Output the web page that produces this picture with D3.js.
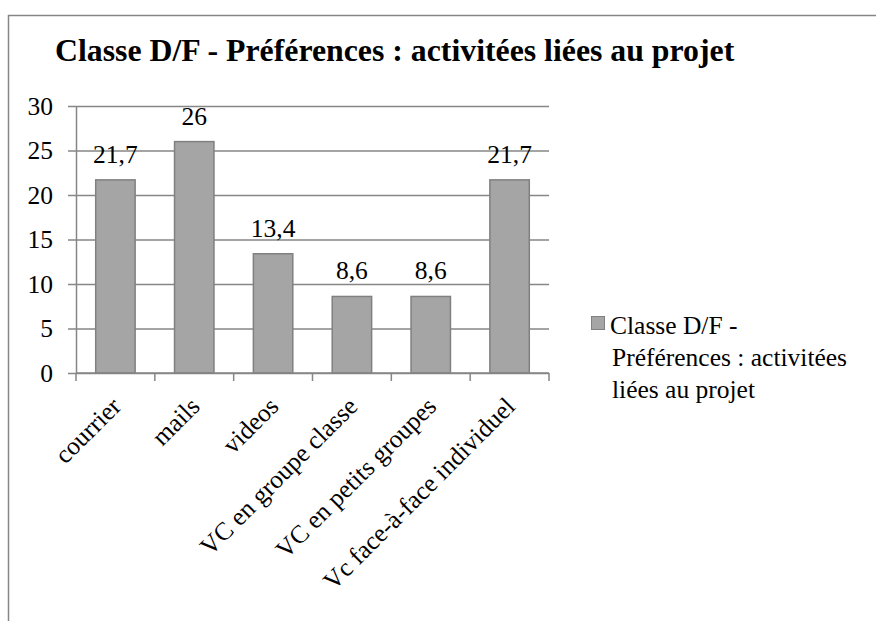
<!DOCTYPE html>
<html>
<head>
<meta charset="utf-8">
<script src="https://cdn.jsdelivr.net/npm/d3@7"></script>
<style>
  html, body { margin: 0; padding: 0; background: #fff; }
  svg { display: block; }
</style>
</head>
<body>
<svg id="chart" width="876" height="621"></svg>
<script>
// Chart data
const title = "Classe D/F - Préférences : activitées liées au projet";
const categories = ["courrier", "mails", "videos", "VC en groupe classe", "VC en petits groupes", "Vc face-à-face individuel"];
const values = [21.7, 26, 13.4, 8.6, 8.6, 21.7];
const valueLabels = ["21,7", "26", "13,4", "8,6", "8,6", "21,7"];
const yTicks = [0, 5, 10, 15, 20, 25, 30];
const legendLines = ["Classe D/F -", "Préférences : activitées", "liées au projet"];

const FONT = '"Liberation Serif", "Times New Roman", Tinos, "DejaVu Serif", serif';
const BODY = 25.5;
const svg = d3.select("#chart").attr("font-family", FONT);
const gridColor = "#868686";
const barFill = "#a5a5a5";
const barStroke = "#808080";

function serif(sel, size) {
  return sel.attr("font-family", FONT).style("font-family", FONT)
    .attr("font-size", size).attr("fill", "#000");
}

// Outer chart frame
svg.append("rect")
  .attr("x", 8.5).attr("y", 15.5)
  .attr("width", 960).attr("height", 700)
  .attr("fill", "none").attr("stroke", gridColor).attr("stroke-width", 1.5);

// Title
serif(svg.append("text"), 31.8)
  .attr("x", 55).attr("y", 61)
  .attr("font-weight", "bold")
  .text(title);

const plot = { left: 76, right: 549, top: 106, bottom: 373 };

const x = d3.scaleBand()
  .domain(categories)
  .range([plot.left, plot.right])
  .paddingInner(0.5)
  .paddingOuter(0.25);

const y = d3.scaleLinear()
  .domain([0, 30])
  .range([plot.bottom, plot.top]);

// Horizontal gridlines with ticks extending left of the axis
const yAxis = d3.axisLeft(y)
  .tickValues(yTicks)
  .tickSize(-(plot.right - plot.left))
  .tickSizeOuter(0)
  .tickPadding(16)
  .tickFormat(d3.format("d"));

const gy = svg.append("g")
  .attr("transform", `translate(${plot.left},0)`)
  .call(yAxis)
  .attr("font-family", FONT);
gy.select(".domain").attr("stroke", gridColor).attr("stroke-width", 1.5);
gy.selectAll(".tick line")
  .attr("x1", -8)
  .attr("stroke", gridColor).attr("stroke-width", 1.5);
serif(gy.selectAll(".tick text"), BODY).attr("x", -23);

// Bars
svg.append("g").selectAll("rect")
  .data(categories)
  .join("rect")
  .attr("x", (d) => x(d))
  .attr("y", (d, i) => y(values[i]))
  .attr("width", x.bandwidth())
  .attr("height", (d, i) => y(0) - y(values[i]))
  .attr("fill", barFill)
  .attr("stroke", barStroke)
  .attr("stroke-width", 1.5);

// Value labels
serif(svg.append("g").selectAll("text")
  .data(categories)
  .join("text"), BODY)
  .attr("x", (d) => x(d) + x.bandwidth() / 2)
  .attr("y", (d, i) => y(values[i]) - 17)
  .attr("text-anchor", "middle")
  .text((d, i) => valueLabels[i]);

// Category axis: ticks sit on band boundaries
const step = x.step();
const boundaries = d3.range(categories.length + 1).map((i) => plot.left + i * step);
const gx = svg.append("g");
gx.append("line")
  .attr("x1", plot.left).attr("x2", plot.right)
  .attr("y1", plot.bottom).attr("y2", plot.bottom)
  .attr("stroke", gridColor).attr("stroke-width", 1.5);
gx.selectAll("line.tick")
  .data(boundaries)
  .join("line")
  .attr("class", "tick")
  .attr("x1", (d) => d).attr("x2", (d) => d)
  .attr("y1", plot.bottom).attr("y2", plot.bottom + 8)
  .attr("stroke", gridColor).attr("stroke-width", 1.5);

// Rotated category labels
serif(gx.selectAll("text")
  .data(categories)
  .join("text"), BODY)
  .attr("text-anchor", "end")
  .attr("transform", (d) => `translate(${x(d) + x.bandwidth() / 2 + 7},${plot.bottom + 35}) rotate(-45)`)
  .text((d) => d);

// Legend
const legend = svg.append("g");
legend.append("rect")
  .attr("x", 591.5).attr("y", 316.5)
  .attr("width", 13).attr("height", 13)
  .attr("fill", barFill).attr("stroke", barStroke).attr("stroke-width", 1);
serif(legend.selectAll("text")
  .data(legendLines)
  .join("text"), BODY)
  .attr("x", (d, i) => (i === 0 ? 610 : 612))
  .attr("y", (d, i) => 334 + i * 32)
  .text((d) => d);
</script>
</body>
</html>
